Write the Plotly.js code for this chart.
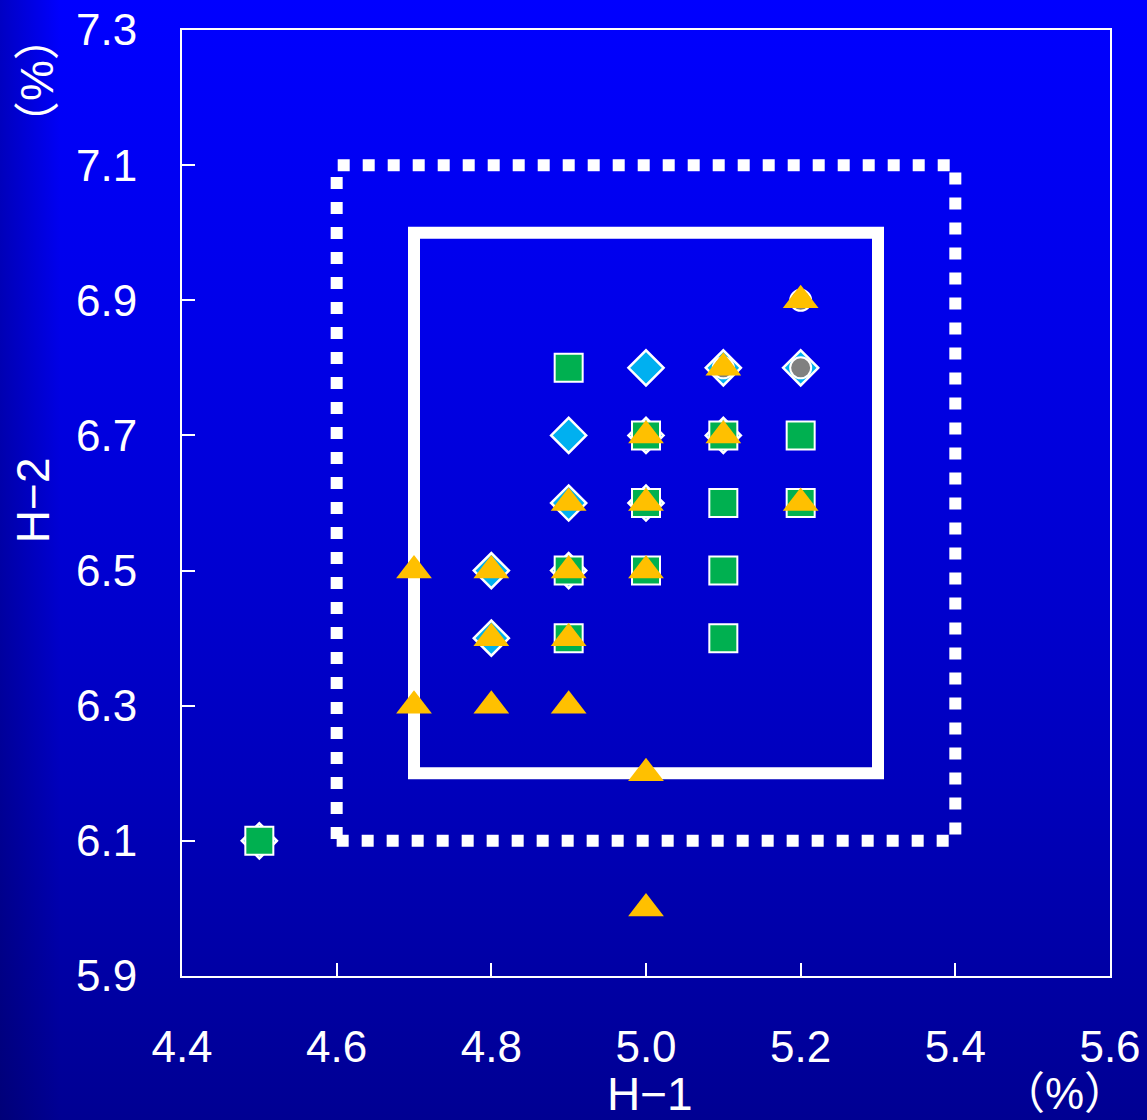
<!DOCTYPE html>
<html>
<head>
<meta charset="utf-8">
<script src="https://cdn.plot.ly/plotly-3.0.1.min.js"></script>
<style>
html, body { margin:0; padding:0; }
body {
  width:1147px; height:1120px; overflow:hidden;
  background:
    linear-gradient(to right, rgba(0,0,60,0.3) 0px, rgba(0,0,60,0) 60px),
    linear-gradient(to bottom, #0000FF 0%, #0000E8 30%, #0000BC 70%, #000092 100%);
}
#chart { width:1147px; height:1120px; }
</style>
</head>
<body>
<div id="chart"></div>
<script>
// Series: light-blue diamonds
const diamondX = [5.0, 5.1, 5.2, 4.9, 5.0, 5.1, 4.9, 5.0, 4.8, 4.9, 4.8, 4.5];
const diamondY = [6.8, 6.8, 6.8, 6.7, 6.7, 6.7, 6.6, 6.6, 6.5, 6.5, 6.4, 6.1];
// Series: gray circles
const circleX = [5.2, 5.1, 5.2];
const circleY = [6.9, 6.8, 6.8];
// Series: green squares
const squareX = [4.9, 5.0, 5.1, 5.2, 5.0, 5.1, 5.2, 4.9, 5.0, 5.1, 4.9, 5.1, 4.5];
const squareY = [6.8, 6.7, 6.7, 6.7, 6.6, 6.6, 6.6, 6.5, 6.5, 6.5, 6.4, 6.4, 6.1];
// Series: orange triangles
const triX = [5.2, 5.1, 5.0, 5.1, 4.9, 5.0, 5.2, 4.7, 4.8, 4.9, 5.0, 4.8, 4.9, 4.7, 4.8, 4.9, 5.0, 5.0];
const triY = [6.9, 6.8, 6.7, 6.7, 6.6, 6.6, 6.6, 6.5, 6.5, 6.5, 6.5, 6.4, 6.4, 6.3, 6.3, 6.3, 6.2, 6.0];
// Reference boxes
const outerBox = {x0: 4.6, x1: 5.4, y0: 6.1, y1: 7.1};
const innerBox = {x0: 4.7, x1: 5.3, y0: 6.2, y1: 7.0};
// Axes
const xRange = [4.4, 5.6];
const yRange = [5.9, 7.3];
const xTitle = 'H−1';
const yTitle = 'H−2';
const unitLabel = '（%）';

const FONT = 'Liberation Sans, Arial, Noto Sans CJK JP, sans-serif';

const traces = [
  {x: diamondX, y: diamondY, mode:'markers', type:'scatter',
   marker:{symbol:'diamond', size:27, color:'#00B0F0', line:{color:'#FFFFFF', width:2.5}}},
  {x: circleX, y: circleY, mode:'markers', type:'scatter',
   marker:{symbol:'circle', size:21, color:'#808080', line:{color:'#FFFFFF', width:2}}},
  {x: squareX, y: squareY, mode:'markers', type:'scatter',
   marker:{symbol:'square', size:28, color:'#00B050', line:{color:'#FFFFFF', width:2}}},
  {x: triX, y: triY, mode:'markers', type:'scatter',
   marker:{symbol:'triangle-up', size:31, color:'#FFC000', line:{width:0}}}
];

const axisCommon = {
  showline:true, linecolor:'#FFFFFF', linewidth:2, mirror:true,
  ticks:'inside', ticklen:13, tickwidth:2, tickcolor:'#FFFFFF',
  showgrid:false, zeroline:false, dtick:0.2, tickformat:'.1f',
  tickfont:{family:FONT, size:44, color:'#FFFFFF'}
};

const layout = {
  width:1147, height:1120,
  margin:{l:182, r:37, t:30, b:144},
  paper_bgcolor:'rgba(0,0,0,0)', plot_bgcolor:'rgba(0,0,0,0)',
  showlegend:false,
  xaxis: Object.assign({}, axisCommon, {range:xRange, tick0:4.4, ticklabelstandoff:31}),
  yaxis: Object.assign({}, axisCommon, {range:yRange, tick0:5.9, ticklabelstandoff:34}),
  shapes:[
    {type:'rect', xref:'x', yref:'y', x0:outerBox.x0, x1:outerBox.x1, y0:outerBox.y0, y1:outerBox.y1,
     line:{color:'#FFFFFF', width:12, dash:'12px,13px'}, layer:'below'},
    {type:'rect', xref:'x', yref:'y', x0:innerBox.x0, x1:innerBox.x1, y0:innerBox.y0, y1:innerBox.y1,
     line:{color:'#FFFFFF', width:12}, layer:'below'}
  ],
  annotations:[
    {text:xTitle, xref:'paper', yref:'paper', x:0.504, y:-0.1247, showarrow:false,
     xanchor:'center', yanchor:'middle', font:{family:FONT, size:46, color:'#FFFFFF'}},
    {text:unitLabel, xref:'paper', yref:'paper', x:0.9515, y:-0.1247, showarrow:false,
     xanchor:'center', yanchor:'middle', font:{family:FONT, size:44, color:'#FFFFFF'}},
    {text:yTitle, xref:'paper', yref:'paper', x:-0.1606, y:0.503, showarrow:false, textangle:-90,
     xanchor:'center', yanchor:'middle', font:{family:FONT, size:46, color:'#FFFFFF'}},
    {text:unitLabel, xref:'paper', yref:'paper', x:-0.1563, y:0.947, showarrow:false, textangle:-90,
     xanchor:'center', yanchor:'middle', font:{family:FONT, size:46, color:'#FFFFFF'}}
  ]
};

Plotly.newPlot('chart', traces, layout, {displayModeBar:false, staticPlot:true});
</script>
</body>
</html>
